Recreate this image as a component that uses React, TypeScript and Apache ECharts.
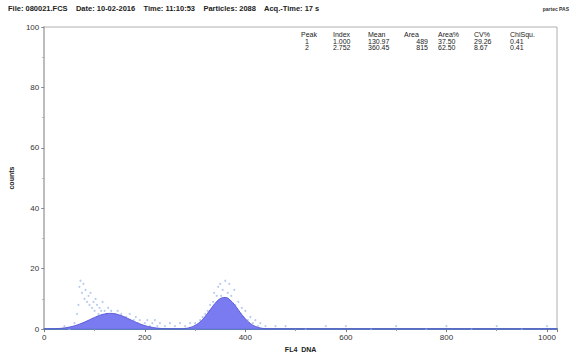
import React, { useEffect, useRef } from "react";
import * as echarts from "echarts";

// Fitted curve (FL4 DNA channel, counts)
const fitX = [0, 10, 20, 30, 40, 50, 60, 70, 80, 90, 100, 110, 120, 130, 140, 150, 160, 170, 180, 190, 200, 210, 220, 230, 240, 250, 260, 270, 280, 290, 300, 310, 320, 330, 340, 350, 360, 370, 380, 390, 400, 410, 420, 430, 440, 450, 460, 500, 600, 700, 800, 900, 1000, 1020];
const fitY = [0.05, 0.06, 0.1, 0.21, 0.39, 0.67, 1.08, 1.63, 2.31, 3.07, 3.85, 4.53, 5.0, 5.2, 5.07, 4.64, 4.0, 3.23, 2.46, 1.75, 1.17, 0.74, 0.44, 0.24, 0.12, 0.08, 0.08, 0.1, 0.22, 0.55, 1.23, 2.41, 4.18, 6.37, 8.54, 10.08, 10.47, 9.58, 7.71, 5.47, 3.41, 1.88, 0.9, 0.38, 0.15, 0.08, 0.06, 0.06, 0.06, 0.06, 0.06, 0.06, 0.06, 0.06];

// Raw histogram counts (channel, count)
const rawX = [40, 50, 60, 65, 68, 70, 72, 75, 78, 80, 82, 85, 88, 90, 92, 95, 98, 100, 102, 105, 108, 110, 113, 116, 118, 120, 124, 127, 130, 133, 136, 140, 143, 146, 150, 153, 156, 160, 163, 166, 170, 174, 178, 182, 186, 190, 195, 200, 205, 210, 215, 220, 225, 230, 240, 250, 260, 270, 280, 290, 300, 305, 310, 315, 318, 320, 325, 328, 330, 333, 336, 338, 340, 343, 346, 348, 350, 352, 355, 357, 360, 362, 365, 368, 370, 372, 375, 378, 380, 383, 386, 390, 393, 396, 400, 405, 410, 415, 420, 425, 430, 440, 460, 480, 520, 560, 600, 650, 700, 760, 800, 850, 900, 950, 1000];
const rawY = [1, 0, 2, 5, 8, 14, 16, 12, 15, 10, 13, 9, 11, 8, 12, 7, 9, 6, 10, 8, 5, 7, 6, 9, 4, 6, 5, 7, 4, 6, 3, 5, 4, 6, 3, 5, 4, 2, 4, 3, 5, 2, 3, 4, 2, 3, 1, 2, 3, 1, 2, 3, 1, 2, 1, 2, 1, 2, 1, 2, 2, 1, 3, 4, 2, 5, 6, 3, 8, 5, 9, 12, 7, 11, 14, 9, 15, 11, 13, 8, 16, 10, 12, 15, 9, 11, 7, 13, 8, 6, 9, 5, 7, 4, 6, 3, 4, 2, 3, 1, 2, 1, 1, 1, 0, 1, 1, 0, 1, 0, 1, 0, 1, 0, 1];

// Peak table
const tableHeaders = ["Peak", "Index", "Mean", "Area", "Area%", "CV%", "ChiSqu."];
const tableRow1 = ["1", "1.000", "130.97", "489", "37.50", "29.26", "0.41"];
const tableRow2 = ["2", "2.752", "360.45", "815", "62.50", "8.67", "0.41"];

const headerText = "File: 080021.FCS    Date: 10-02-2016    Time: 11:10:53    Particles: 2088    Acq.-Time: 17 s";
const brandText = "partec PAS";

const colX = [301, 333, 368, 404, 438, 474, 510];

export default function App() {
  const ref = useRef<HTMLDivElement>(null);
  useEffect(() => {
    const chart = echarts.init(ref.current!, null, { renderer: "svg" });
    const font = "Liberation Sans, Arial, sans-serif";
    const graphics: any[] = [
      {
        type: "text",
        x: 8,
        y: 4,
        style: { text: headerText, font: `bold 7.5px ${font}`, fill: "#222" },
      },
      {
        type: "text",
        x: 569,
        y: 6,
        style: { text: brandText, font: `bold 5px ${font}`, fill: "#333", align: "right" },
      },
    ];
    const rows = [tableHeaders, tableRow1, tableRow2];
    const rowY = [31, 38, 44];
    rows.forEach((r, ri) => {
      r.forEach((t, ci) => {
        let x = colX[ci];
        let align: any = "left";
        if (ri > 0 && ci === 0) { x = colX[0] + 6; align = "center"; }
        if (ri > 0 && ci === 3) { x = colX[3] + 24; align = "right"; }
        graphics.push({
          type: "text",
          x,
          y: rowY[ri],
          style: { text: t, font: `7px ${font}`, fill: "#222", align },
        });
      });
    });
    const fitData = fitX.map((x, i) => [x, fitY[i]]);
    const rawData = rawX.map((x, i) => [x, rawY[i]]);
    chart.setOption({
      animation: false,
      backgroundColor: "#fff",
      textStyle: { fontFamily: font },
      grid: { left: 39, right: 17, top: 27, bottom: 24, show: true, borderColor: "#b0b0b0", borderWidth: 1 },
      graphic: graphics,
      xAxis: {
        type: "value",
        min: 0,
        max: 1020,
        interval: 200,
        name: "FL4  DNA",
        nameLocation: "middle",
        nameGap: 12,
        nameTextStyle: { fontSize: 7, fontWeight: "bold", color: "#222" },
        axisLine: { show: true, lineStyle: { color: "#5b7fb6", width: 2 } },
        axisTick: { show: true, length: 3, lineStyle: { color: "#777" } },
        minorTick: { show: true, splitNumber: 2, length: 2, lineStyle: { color: "#999" } },
        axisLabel: { fontSize: 8, color: "#333", margin: 4, showMaxLabel: false, formatter: (v: number) => String(v) },
        splitLine: { show: false },
      },
      yAxis: {
        type: "value",
        min: 0,
        max: 100,
        interval: 20,
        name: "counts",
        nameLocation: "middle",
        nameGap: 24,
        nameRotate: 90,
        nameTextStyle: { fontSize: 7, fontWeight: "bold", color: "#222" },
        axisLine: { show: true, lineStyle: { color: "#bdbdbd", width: 2 } },
        axisTick: { show: true, length: 3, lineStyle: { color: "#888" } },
        minorTick: { show: true, splitNumber: 2, length: 2, lineStyle: { color: "#aaa" } },
        axisLabel: { fontSize: 8, color: "#333", margin: 5 },
        splitLine: { show: false },
      },
      series: [
        {
          type: "scatter",
          data: rawData,
          symbolSize: 2,
          itemStyle: { color: "#a9c2ea", opacity: 0.85 },
          z: 1,
        },
        {
          type: "line",
          data: fitData,
          smooth: true,
          showSymbol: false,
          lineStyle: { color: "#5a5ad8", width: 1 },
          areaStyle: { color: "#7474f0", opacity: 0.95 },
          z: 2,
        },
      ],
    });
    return () => chart.dispose();
  }, []);
  return <div ref={ref} style={{ position: "fixed", left: 0, top: 0, width: 574, height: 358 }} />;
}
